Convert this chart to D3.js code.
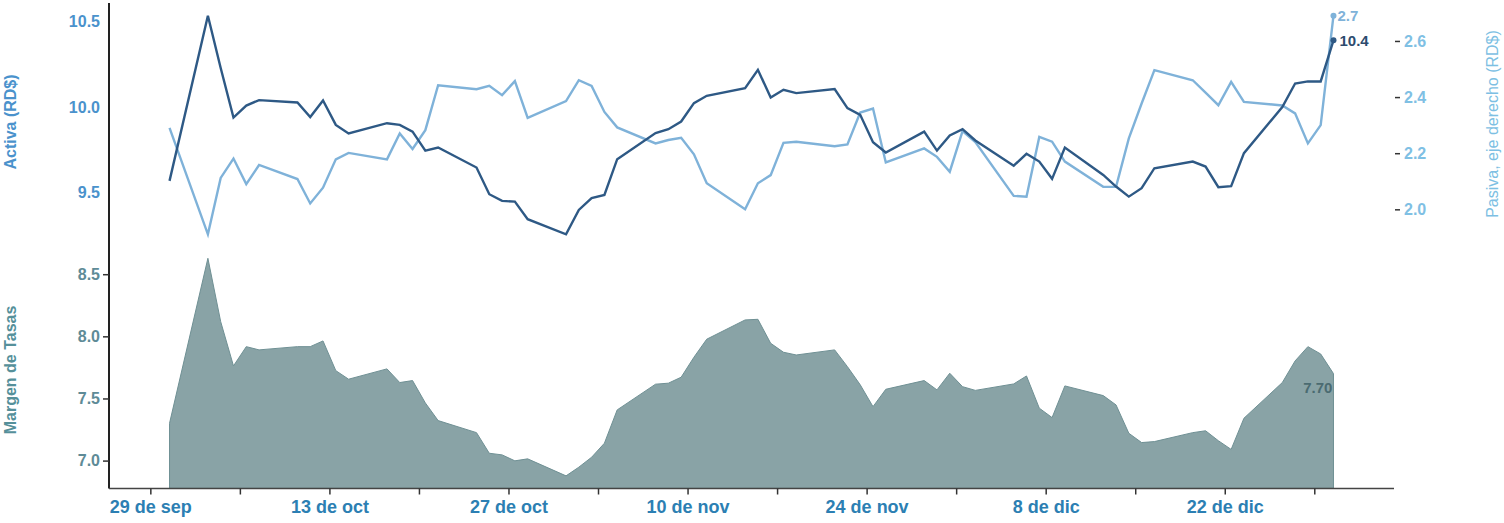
<!DOCTYPE html>
<html>
<head>
<meta charset="utf-8">
<script src="https://cdn.jsdelivr.net/npm/d3@7"></script>
<style>
  body { margin: 0; background: #fff; }
  svg { font-family: "Liberation Sans", Arial, sans-serif; }
</style>
</head>
<body>
<svg id="chart" width="1504" height="523"></svg>
<script>
// business days
var dates = ["2016-09-30",
  "2016-10-03","2016-10-04","2016-10-05","2016-10-06","2016-10-07",
  "2016-10-10","2016-10-11","2016-10-12","2016-10-13","2016-10-14",
  "2016-10-17","2016-10-18","2016-10-19","2016-10-20","2016-10-21",
  "2016-10-24","2016-10-25","2016-10-26","2016-10-27","2016-10-28",
  "2016-10-31","2016-11-01","2016-11-02","2016-11-03","2016-11-04",
  "2016-11-07","2016-11-08","2016-11-09","2016-11-10","2016-11-11",
  "2016-11-14","2016-11-15","2016-11-16","2016-11-17","2016-11-18",
  "2016-11-21","2016-11-22","2016-11-23","2016-11-24","2016-11-25",
  "2016-11-28","2016-11-29","2016-11-30","2016-12-01","2016-12-02",
  "2016-12-05","2016-12-06","2016-12-07","2016-12-08","2016-12-09",
  "2016-12-12","2016-12-13","2016-12-14","2016-12-15","2016-12-16",
  "2016-12-19","2016-12-20","2016-12-21","2016-12-22","2016-12-23",
  "2016-12-26","2016-12-27","2016-12-28","2016-12-29","2016-12-30"];

var activa = [9.569,
  10.534,10.228,9.939,10.009,10.041,
  10.027,9.942,10.039,9.896,9.846,
  9.906,9.896,9.857,9.746,9.764,
  9.647,9.491,9.452,9.448,9.345,
  9.257,9.399,9.468,9.487,9.696,
  9.848,9.871,9.916,10.023,10.066,
  10.111,10.218,10.056,10.101,10.082,
  10.105,9.994,9.955,9.795,9.735,
  9.857,9.746,9.834,9.871,9.805,
  9.658,9.727,9.682,9.581,9.764,
  9.604,9.536,9.477,9.526,9.643,
  9.682,9.653,9.532,9.538,9.731,
  10.000,10.138,10.150,10.150,10.39];

var pasiva = [2.290,
  1.911,2.112,2.181,2.090,2.158,
  2.108,2.021,2.077,2.178,2.201,
  2.178,2.270,2.215,2.282,2.442,
  2.428,2.440,2.407,2.457,2.326,
  2.386,2.460,2.440,2.347,2.292,
  2.235,2.247,2.255,2.196,2.093,
  2.000,2.093,2.122,2.237,2.241,
  2.225,2.231,2.345,2.359,2.167,
  2.217,2.187,2.134,2.279,2.240,
  2.048,2.045,2.258,2.241,2.170,
  2.080,2.080,2.253,2.377,2.496,
  2.460,2.416,2.371,2.454,2.383,
  2.370,2.342,2.235,2.300,2.69];

var margen = [7.30,
  8.628,8.118,7.762,7.917,7.891,
  7.917,7.917,7.963,7.724,7.655,
  7.738,7.628,7.644,7.464,7.322,
  7.225,7.059,7.046,6.998,7.014,
  6.877,6.947,7.027,7.140,7.408,
  7.615,7.623,7.671,7.832,7.977,
  8.132,8.137,7.944,7.872,7.850,
  7.891,7.756,7.610,7.434,7.574,
  7.644,7.569,7.703,7.595,7.565,
  7.617,7.681,7.422,7.346,7.601,
  7.523,7.448,7.220,7.145,7.153,
  7.225,7.240,7.160,7.090,7.341,
  7.628,7.802,7.917,7.858,7.70];

var ticksActiva = [9.5, 10.0, 10.5];
var ticksPasiva = [2.0, 2.2, 2.4, 2.6];
var ticksMargen = [7.0, 7.5, 8.0, 8.5];

var es = d3.timeFormatLocale({
  dateTime: "%x, %X", date: "%d/%m/%Y", time: "%-I:%M:%S %p",
  periods: ["AM", "PM"],
  days: ["domingo","lunes","martes","miércoles","jueves","viernes","sábado"],
  shortDays: ["dom","lun","mar","mié","jue","vie","sáb"],
  months: ["enero","febrero","marzo","abril","mayo","junio","julio","agosto","septiembre","octubre","noviembre","diciembre"],
  shortMonths: ["ene","feb","mar","abr","may","jun","jul","ago","sep","oct","nov","dic"]
});
var fmtDate = es.format("%-d de %b");

var parse = d3.timeParse("%Y-%m-%d");
// each value is drawn at the middle of its day
var data = dates.map(function(d, i) {
  return { date: d3.timeHour.offset(parse(d), 12), a: activa[i], p: pasiva[i], m: margen[i] };
});

var svg = d3.select("#chart");
var left = 109, right = 1394;

var ext = d3.extent(data, function(d) { return d.date; });
var pad = (ext[1] - ext[0]) * 0.052;
var x = d3.scaleTime()
  .domain([new Date(+ext[0] - pad), new Date(+ext[1] + pad)])
  .range([left, right]);

var yA = d3.scaleLinear().domain(d3.extent(activa)).range([234.3, 15.7]);
var yP = d3.scaleLinear().domain(d3.extent(pasiva)).range([234.3, 15.7]);
var yM = d3.scaleLinear().domain([d3.min(margen) - 0.1, d3.max(margen)]).range([488.3, 258.3]);

var cDark = "#2e5985", cLight = "#7fb2d9";

// area (margen)
svg.append("path")
  .datum(data)
  .attr("fill", "#89a3a6")
  .attr("stroke", "#6f9094")
  .attr("stroke-width", 1)
  .attr("d", d3.area()
    .x(function(d) { return x(d.date); })
    .y0(yM.range()[0])
    .y1(function(d) { return yM(d.m); }));

// lines
svg.append("path")
  .datum(data)
  .attr("fill", "none")
  .attr("stroke", cLight)
  .attr("stroke-width", 2.4)
  .attr("d", d3.line().x(function(d) { return x(d.date); }).y(function(d) { return yP(d.p); }));

svg.append("path")
  .datum(data)
  .attr("fill", "none")
  .attr("stroke", cDark)
  .attr("stroke-width", 2.4)
  .attr("d", d3.line().x(function(d) { return x(d.date); }).y(function(d) { return yA(d.a); }));

var last = data[data.length - 1];

svg.append("circle").attr("cx", x(last.date)).attr("cy", yP(last.p)).attr("r", 3).attr("fill", cLight);
svg.append("circle").attr("cx", x(last.date)).attr("cy", yA(last.a)).attr("r", 3).attr("fill", cDark);

svg.append("text")
  .attr("x", x(last.date) + 4).attr("y", yP(last.p)).attr("dy", "0.35em")
  .attr("font-size", 15).attr("font-weight", "bold").attr("fill", cLight)
  .text(last.p.toFixed(1));
svg.append("text")
  .attr("x", x(last.date) + 6).attr("y", yA(last.a)).attr("dy", "0.35em")
  .attr("font-size", 15).attr("font-weight", "bold").attr("fill", "#2d4b6e")
  .text(last.a.toFixed(1));
svg.append("text")
  .attr("x", x(last.date) - 1).attr("y", yM(last.m) + 14).attr("dy", "0.35em")
  .attr("text-anchor", "end")
  .attr("font-size", 15).attr("font-weight", "bold").attr("fill", "#4b6b71")
  .text(last.m.toFixed(2));

// left axis line across both panels
svg.append("line")
  .attr("x1", left).attr("x2", left).attr("y1", 3).attr("y2", 488.5)
  .attr("stroke", "#222").attr("stroke-width", 2);

// activa axis
var gA = svg.append("g").attr("transform", "translate(" + left + ",0)")
  .call(d3.axisLeft(yA).tickValues(ticksActiva).tickSize(0).tickPadding(9).tickFormat(d3.format(".1f")));
gA.select(".domain").remove();
gA.selectAll("text").attr("font-size", 16).attr("font-weight", "bold").attr("fill", "#4a92cc")
  .attr("font-family", "Liberation Sans, Arial, sans-serif");

// margen axis
var gM = svg.append("g").attr("transform", "translate(" + left + ",0)")
  .call(d3.axisLeft(yM).tickValues(ticksMargen).tickSize(6).tickPadding(3).tickFormat(d3.format(".1f")));
gM.select(".domain").remove();
gM.selectAll("line").attr("stroke", "#333").attr("stroke-width", 1.5);
gM.selectAll("text").attr("font-size", 16).attr("font-weight", "bold").attr("fill", "#5e8b97")
  .attr("font-family", "Liberation Sans, Arial, sans-serif");

// pasiva axis (right)
var gP = svg.append("g").attr("transform", "translate(1395,0)")
  .call(d3.axisRight(yP).tickValues(ticksPasiva).tickSize(5).tickPadding(4).tickFormat(d3.format(".1f")));
gP.select(".domain").remove();
gP.selectAll("line").attr("stroke", "#333").attr("stroke-width", 1.5);
gP.selectAll("text").attr("font-size", 16).attr("font-weight", "bold").attr("fill", "#7fc0e4")
  .attr("font-family", "Liberation Sans, Arial, sans-serif");

// x axis
var weekTicks = d3.timeThursday.every(1).range(new Date(2016, 8, 29), new Date(2017, 0, 1));
var gX = svg.append("g").attr("transform", "translate(0,488.5)")
  .call(d3.axisBottom(x).tickValues(weekTicks).tickSize(6).tickPadding(6)
    .tickFormat(function(d, i) { return i % 2 === 0 ? fmtDate(d) : ""; }));
gX.select(".domain").attr("stroke", "#444").attr("stroke-width", 1.5).attr("d", "M" + left + ",0H" + right);
gX.selectAll("line").attr("stroke", "#333").attr("stroke-width", 1.5);
gX.selectAll("text").attr("font-size", 18).attr("font-weight", "bold").attr("fill", "#2c7fb3")
  .attr("font-family", "Liberation Sans, Arial, sans-serif");

// axis titles
svg.append("text")
  .attr("transform", "translate(16,122) rotate(-90)")
  .attr("text-anchor", "middle").attr("font-size", 16).attr("font-weight", "bold")
  .attr("fill", "#4a92cc").text("Activa (RD$)");
svg.append("text")
  .attr("transform", "translate(16,370) rotate(-90)")
  .attr("text-anchor", "middle").attr("font-size", 16).attr("font-weight", "bold")
  .attr("fill", "#55909a").text("Margen de Tasas");
svg.append("text")
  .attr("transform", "translate(1498,124) rotate(-90)")
  .attr("text-anchor", "middle").attr("font-size", 16)
  .attr("fill", "#7dbfe3").text("Pasiva, eje derecho (RD$)");
</script>
</body>
</html>
